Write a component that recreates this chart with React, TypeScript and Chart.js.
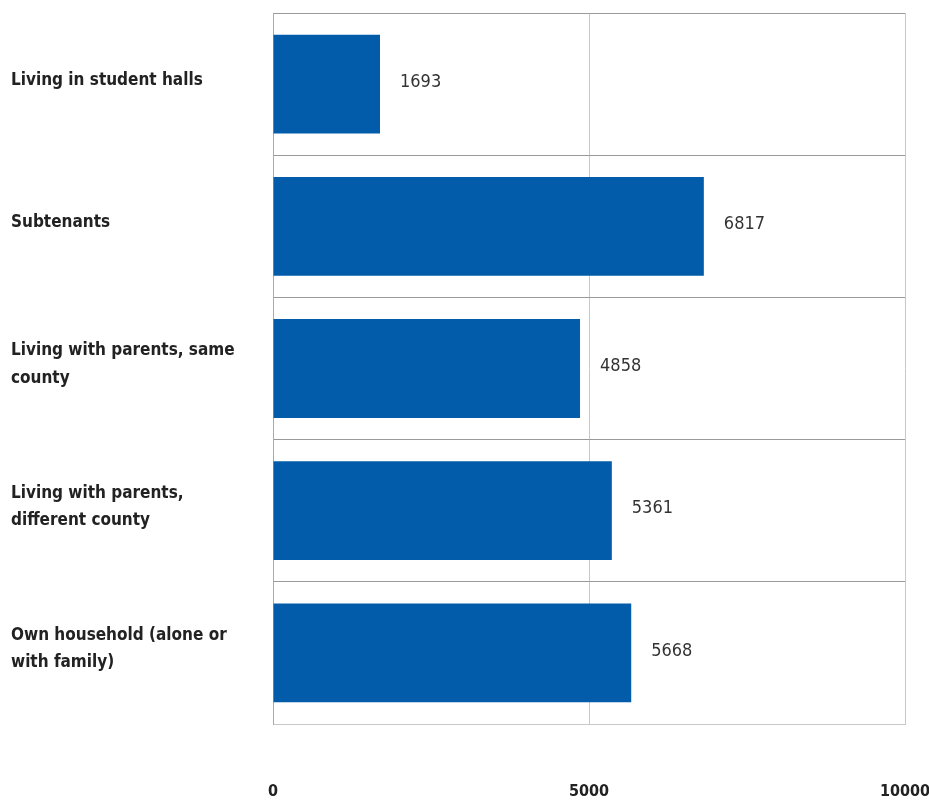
import React, { useEffect, useRef } from "react";
import { Chart, registerables } from "chart.js";

Chart.register(...registerables);

const categories: (string | string[])[] = [
  "Living in student halls",
  "Subtenants",
  ["Living with parents, same", "county"],
  ["Living with parents,", "different county"],
  ["Own household (alone or", "with family)"],
];
const values: number[] = [1693, 6817, 4858, 5361, 5668];
const xTicks: number[] = [0, 5000, 10000];

const FONT = "'DejaVu Sans Condensed', 'Liberation Sans Narrow', sans-serif";
const BAR_COLOR = "#025CAA";

const valueLabelPlugin = {
  id: "valueLabels",
  afterDatasetsDraw(chart: any) {
    const { ctx } = chart;
    const meta = chart.getDatasetMeta(0);
    ctx.save();
    ctx.font = `normal 18px ${FONT}`;
    ctx.fillStyle = "#333333";
    ctx.textAlign = "left";
    ctx.textBaseline = "middle";
    meta.data.forEach((bar: any, i: number) => {
      ctx.fillText(String(values[i]), bar.x + 20, bar.y - 2);
    });
    ctx.restore();
  },
};

export default function App() {
  const ref = useRef<HTMLCanvasElement>(null);
  useEffect(() => {
    if (!ref.current) return;
    const chart = new Chart(ref.current, {
      type: "bar",
      data: {
        labels: categories,
        datasets: [
          {
            data: values,
            backgroundColor: BAR_COLOR,
            borderWidth: 0,
            categoryPercentage: 1,
            barPercentage: 0.695,
          },
        ],
      },
      options: {
        indexAxis: "y",
        animation: false,
        responsive: true,
        maintainAspectRatio: false,
        layout: { padding: { left: 11, right: 24, top: 13, bottom: 0 } },
        plugins: { legend: { display: false }, tooltip: { enabled: false } },
        scales: {
          x: {
            min: 0,
            max: 10000,
            afterBuildTicks: (scale: any) => {
              scale.ticks = xTicks.map((v) => ({ value: v }));
            },
            afterFit: (scale: any) => {
              scale.height = 77;
              scale.paddingLeft = 0;
              scale.paddingRight = 0;
            },
            grid: { color: "#c8c8c8", lineWidth: 1, drawTicks: false },
            border: { color: "#c8c8c8" },
            ticks: {
              padding: 58,
              maxRotation: 0,
              color: "#222222",
              font: { family: FONT, size: 16, weight: "bold" },
              callback: (v: any) => String(v),
            },
          },
          y: {
            afterFit: (scale: any) => {
              scale.width = 262;
              scale.paddingTop = 0;
              scale.paddingBottom = 0;
            },
            grid: { color: "#999999", lineWidth: 1, drawTicks: false, offset: true },
            border: { color: "#aaaaaa" },
            ticks: {
              crossAlign: "far",
              padding: 0,
              labelOffset: -4,
              color: "#222222",
              font: { family: FONT, size: 17, weight: "bold", lineHeight: 1.6 },
            },
          },
        },
      },
      plugins: [valueLabelPlugin],
    });
    return () => chart.destroy();
  }, []);
  return (
    <div style={{ position: "absolute", left: 0, top: 0, width: 929, height: 801 }}>
      <canvas ref={ref} />
    </div>
  );
}
